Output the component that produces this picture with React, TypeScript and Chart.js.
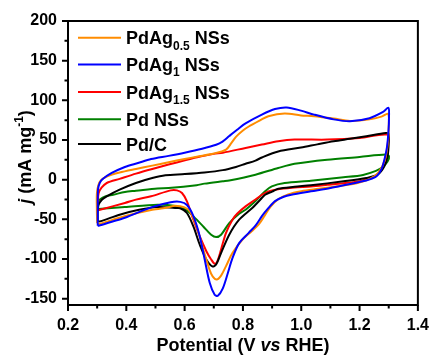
import { useEffect, useRef } from 'react';
import { Chart, registerables } from 'chart.js';

Chart.register(...registerables);

// ---- axis ticks ----
const X_TICKS = [0.2, 0.4, 0.6, 0.8, 1.0, 1.2, 1.4];
const X_MINOR = [0.3, 0.5, 0.7, 0.9, 1.1, 1.3];
const Y_TICKS = [-150, -100, -50, 0, 50, 100, 150, 200];
const Y_MINOR = [-125, -75, -25, 25, 75, 125, 175];

// ---- series: [potential (V vs RHE), j (mA mg-1)] — anodic then cathodic scan ----
const PDAG05: [number, number][] = [
  [0.300, -55], [0.299, -38], [0.299, -18], [0.304, -7], [0.314, -0.5], [0.333, 4], [0.377, 9],
  [0.433, 13.5], [0.489, 17.7], [0.545, 22], [0.600, 26], [0.650, 29.5], [0.700, 33], [0.742, 38],
  [0.760, 46], [0.776, 54], [0.800, 62], [0.820, 67], [0.860, 75], [0.887, 80], [0.943, 83.3],
  [0.999, 81], [1.044, 80], [1.111, 77], [1.167, 74], [1.234, 76], [1.275, 79.5], [1.298, 83],
  [1.300, 66], [1.297, 46], [1.287, 25], [1.265, 9], [1.235, 1], [1.190, -4.5], [1.130, -8],
  [1.060, -11.5], [1.000, -14.5], [0.955, -18.5], [0.920, -25], [0.895, -34], [0.875, -45],
  [0.855, -56], [0.830, -65], [0.800, -75], [0.764, -92.5], [0.742, -109], [0.725, -121],
  [0.710, -126], [0.696, -122], [0.686, -114], [0.664, -88], [0.641, -59], [0.620, -41],
  [0.600, -35], [0.567, -33], [0.541, -35], [0.489, -38], [0.400, -45.5], [0.350, -51],
  [0.310, -55.5], [0.300, -55],
];

const PDAG1: [number, number][] = [
  [0.302, -58], [0.302, -35], [0.303, -12], [0.309, -4], [0.318, 0.5], [0.350, 8.4], [0.395, 16],
  [0.440, 21], [0.485, 26], [0.545, 30], [0.600, 34], [0.660, 39], [0.708, 44], [0.730, 48],
  [0.753, 55], [0.780, 63], [0.809, 71], [0.865, 82], [0.910, 89], [0.950, 91], [0.999, 87],
  [1.044, 82], [1.111, 76], [1.167, 73.6], [1.234, 77.5], [1.279, 85], [1.299, 90.5],
  [1.301, 80], [1.299, 60], [1.294, 41], [1.287, 28], [1.276, 14], [1.260, 5], [1.240, 1],
  [1.223, -1], [1.167, -5.5], [1.100, -10.5], [1.033, -14.7], [0.966, -19], [0.940, -21.5],
  [0.910, -27], [0.887, -36], [0.865, -46], [0.843, -58], [0.820, -67], [0.787, -80],
  [0.764, -99], [0.748, -118], [0.731, -137], [0.714, -146.4], [0.703, -145], [0.686, -130],
  [0.669, -101], [0.652, -71.5], [0.630, -46], [0.608, -32], [0.585, -28], [0.552, -28.5],
  [0.485, -35], [0.395, -48], [0.350, -53], [0.305, -58], [0.302, -58],
];

const PDAG15: [number, number][] = [
  [0.303, -38.6], [0.303, -26], [0.305, -17], [0.315, -10], [0.333, -4.2], [0.377, 1],
  [0.433, 7.6], [0.489, 13.5], [0.545, 19], [0.601, 24.4], [0.657, 29.4], [0.700, 32.5],
  [0.731, 34], [0.809, 40], [0.865, 44.2], [0.921, 48.4], [0.977, 50.5], [1.089, 50.5],
  [1.200, 52.6], [1.296, 56.8],
  [1.298, 45], [1.294, 30], [1.279, 14.7], [1.262, 7], [1.245, 3.4], [1.200, -2], [1.145, -4.5],
  [1.090, -6.5], [1.033, -8.5], [0.977, -10], [0.921, -12], [0.890, -14.5], [0.865, -19],
  [0.843, -25], [0.809, -33.7], [0.780, -43], [0.764, -50.5], [0.742, -67], [0.725, -88],
  [0.712, -103], [0.703, -106], [0.690, -100], [0.675, -90.5], [0.652, -71.5], [0.630, -50.5],
  [0.608, -27.3], [0.591, -16.8], [0.574, -13.5], [0.552, -13.5], [0.485, -21], [0.433, -25.2],
  [0.395, -29.4], [0.310, -37.9], [0.303, -38.6],
];

const PDNS: [number, number][] = [
  [0.302, -37], [0.303, -27.3], [0.328, -21], [0.355, -19], [0.395, -15.5], [0.433, -14],
  [0.507, -11], [0.545, -10.5], [0.641, -7], [0.668, -5], [0.731, -2], [0.753, -1], [0.843, 6.3],
  [0.921, 14.7], [0.977, 20], [1.089, 25.2], [1.200, 28.6], [1.290, 31.6], [1.301, 29.4],
  [1.296, 23], [1.279, 16], [1.256, 11], [1.212, 6], [1.145, 3], [1.033, -1.3], [0.943, -4.2],
  [0.899, -8.4], [0.876, -14.7], [0.843, -27], [0.809, -38], [0.787, -43], [0.753, -54.7],
  [0.725, -69.4], [0.708, -72.4], [0.691, -69.4], [0.664, -59], [0.630, -46.3], [0.605, -38],
  [0.563, -33], [0.507, -31.6], [0.395, -34.5], [0.303, -37],
];

const PDC: [number, number][] = [
  [0.302, -52], [0.302, -40], [0.305, -31.6], [0.317, -25], [0.333, -21], [0.377, -12.6],
  [0.433, -4.2], [0.489, 2], [0.534, 5.5], [0.601, 7], [0.668, 9], [0.731, 12], [0.776, 16],
  [0.809, 20], [0.843, 24], [0.865, 28], [0.921, 35.5], [0.999, 40.5], [1.055, 44.5],
  [1.111, 48.4], [1.167, 51.5], [1.223, 54.7], [1.290, 58.9], [1.299, 58],
  [1.300, 46], [1.296, 29.4], [1.285, 16.8], [1.262, 6.3], [1.223, 2], [1.145, -2.1],
  [1.033, -7.1], [0.977, -9], [0.921, -11.4], [0.900, -15], [0.876, -19], [0.860, -25],
  [0.832, -35.8], [0.787, -50.5], [0.753, -69.4], [0.725, -92.5], [0.708, -107], [0.695, -109.4],
  [0.675, -101], [0.652, -82], [0.630, -59], [0.608, -42], [0.585, -36], [0.567, -35.8],
  [0.511, -34.5], [0.444, -38], [0.377, -44.2], [0.310, -52.6], [0.302, -52],
];

const COLORS = {
  orange: '#FF8C00',
  blue: '#0000FF',
  red: '#FF0000',
  green: '#008000',
  black: '#000000',
};

type Part = { t: string; sub?: boolean; sup?: boolean; italic?: boolean };

const LEGEND: { color: string; parts: Part[] }[] = [
  { color: COLORS.orange, parts: [{ t: 'PdAg' }, { t: '0.5', sub: true }, { t: ' NSs' }] },
  { color: COLORS.blue, parts: [{ t: 'PdAg' }, { t: '1', sub: true }, { t: ' NSs' }] },
  { color: COLORS.red, parts: [{ t: 'PdAg' }, { t: '1.5', sub: true }, { t: ' NSs' }] },
  { color: COLORS.green, parts: [{ t: 'Pd NSs' }] },
  { color: COLORS.black, parts: [{ t: 'Pd/C' }] },
];

const X_TITLE: Part[] = [{ t: 'Potential (V ' }, { t: 'vs', italic: true }, { t: ' RHE)' }];
const Y_TITLE: Part[] = [{ t: 'j', italic: true }, { t: ' (mA mg' }, { t: '-1', sup: true }, { t: ')' }];

const FAMILY = '"Liberation Sans", Arial, Helvetica, sans-serif';

function partFont(p: Part, size: number) {
  const s = p.sub || p.sup ? Math.round(size * 0.68) : size;
  return `${p.italic ? 'italic ' : ''}bold ${s}px ${FAMILY}`;
}

function measureParts(ctx: CanvasRenderingContext2D, parts: Part[], size: number) {
  let w = 0;
  for (const p of parts) {
    ctx.font = partFont(p, size);
    w += ctx.measureText(p.t).width;
  }
  return w;
}

function drawParts(ctx: CanvasRenderingContext2D, parts: Part[], x: number, y: number, size: number) {
  let cx = x;
  ctx.textAlign = 'left';
  ctx.textBaseline = 'alphabetic';
  for (const p of parts) {
    ctx.font = partFont(p, size);
    const dy = p.sub ? size * 0.3 : p.sup ? -size * 0.42 : 0;
    ctx.fillText(p.t, cx, y + dy);
    cx += ctx.measureText(p.t).width;
  }
}

const decorPlugin = {
  id: 'decor',
  afterDraw(chart: any) {
    const { ctx, chartArea, scales } = chart;
    const { left, right, top, bottom } = chartArea;
    const xs = scales.x;
    const ys = scales.y;
    ctx.save();
    ctx.strokeStyle = '#000';
    ctx.lineWidth = 2;
    ctx.strokeRect(left, top, right - left, bottom - top);

    ctx.beginPath();
    for (const v of X_TICKS) {
      const px = xs.getPixelForValue(v);
      ctx.moveTo(px, bottom);
      ctx.lineTo(px, bottom + 6);
    }
    for (const v of X_MINOR) {
      const px = xs.getPixelForValue(v);
      ctx.moveTo(px, bottom);
      ctx.lineTo(px, bottom + 3.5);
    }
    for (const v of Y_TICKS) {
      const py = ys.getPixelForValue(v);
      ctx.moveTo(left, py);
      ctx.lineTo(left - 6, py);
    }
    for (const v of Y_MINOR) {
      const py = ys.getPixelForValue(v);
      ctx.moveTo(left, py);
      ctx.lineTo(left - 3.5, py);
    }
    ctx.stroke();

    // legend
    const rows = [37.7, 64.5, 92, 119.3, 144];
    LEGEND.forEach((item, i) => {
      const ly = rows[i];
      ctx.strokeStyle = item.color;
      ctx.lineWidth = 2;
      ctx.beginPath();
      ctx.moveTo(78, ly);
      ctx.lineTo(121, ly);
      ctx.stroke();
      ctx.fillStyle = '#000';
      drawParts(ctx, item.parts, 126, ly + 6.5, 18);
    });

    // x title
    ctx.fillStyle = '#000';
    const xw = measureParts(ctx, X_TITLE, 18);
    drawParts(ctx, X_TITLE, (left + right) / 2 - xw / 2, 351, 18);

    // y title
    const yw = measureParts(ctx, Y_TITLE, 18);
    ctx.translate(31, 157);
    ctx.rotate(-Math.PI / 2);
    drawParts(ctx, Y_TITLE, -yw / 2, 0, 18);
    ctx.restore();
  },
};

export default function App() {
  const ref = useRef<HTMLCanvasElement | null>(null);

  useEffect(() => {
    document.body.style.margin = '0';
    const canvas = ref.current;
    if (!canvas) return;
    const series = [
      { label: 'PdAg1 NSs', color: COLORS.blue, data: PDAG1 },
      { label: 'PdAg0.5 NSs', color: COLORS.orange, data: PDAG05 },
      { label: 'Pd/C', color: COLORS.black, data: PDC },
      { label: 'PdAg1.5 NSs', color: COLORS.red, data: PDAG15 },
      { label: 'Pd NSs', color: COLORS.green, data: PDNS },
    ];
    const tickFont = { family: FAMILY, size: 16, weight: 'bold' as const };
    const chart = new Chart(canvas, {
      type: 'scatter',
      data: {
        datasets: series.map((s) => ({
          label: s.label,
          data: s.data.map(([x, y]) => ({ x, y })),
          borderColor: s.color,
          backgroundColor: s.color,
          borderWidth: 2,
          pointRadius: 0,
          showLine: true,
          tension: 0.3,
          fill: false,
        })),
      },
      options: {
        responsive: false,
        animation: false,
        events: [],
        layout: { padding: { left: 0, right: 14, top: 21, bottom: 0 } },
        plugins: { legend: { display: false }, tooltip: { enabled: false } },
        scales: {
          x: {
            type: 'linear',
            min: 0.2,
            max: 1.4,
            grid: { display: false, drawTicks: false },
            border: { display: false },
            ticks: {
              stepSize: 0.2,
              padding: 11,
              color: '#000',
              font: tickFont,
              callback: (v: any) => Number(v).toFixed(1),
            },
            afterBuildTicks: (scale: any) => {
              scale.ticks = X_TICKS.map((v) => ({ value: v }));
            },
            afterFit: (scale: any) => {
              scale.height = 51;
            },
          },
          y: {
            type: 'linear',
            min: -158,
            max: 200,
            grid: { display: false, drawTicks: false },
            border: { display: false },
            ticks: {
              padding: 11,
              color: '#000',
              font: tickFont,
              callback: (v: any) => String(v),
            },
            afterBuildTicks: (scale: any) => {
              scale.ticks = Y_TICKS.map((v) => ({ value: v }));
            },
            afterFit: (scale: any) => {
              scale.width = 68;
            },
          },
        },
      },
      plugins: [decorPlugin],
    });
    return () => chart.destroy();
  }, []);

  return (
    <div style={{ position: 'fixed', left: 0, top: 0, width: 440, height: 356, background: '#fff' }}>
      <canvas ref={ref} width={440} height={356} style={{ width: 440, height: 356, display: 'block' }} />
    </div>
  );
}
